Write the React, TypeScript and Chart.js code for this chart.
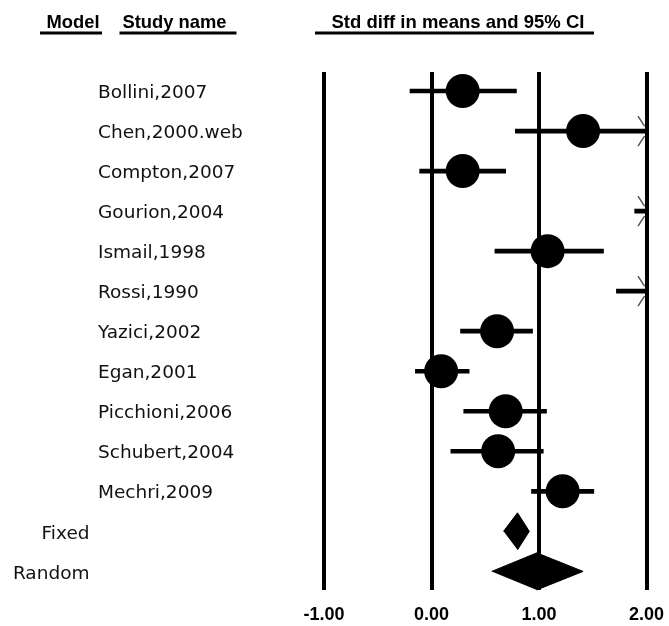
import React, { useEffect, useRef } from 'react';
import { Chart, registerables } from 'chart.js';

Chart.register(...registerables);

// ---- data ----
const studyNames = [
  'Bollini,2007',
  'Chen,2000.web',
  'Compton,2007',
  'Gourion,2004',
  'Ismail,1998',
  'Rossi,1990',
  'Yazici,2002',
  'Egan,2001',
  'Picchioni,2006',
  'Schubert,2004',
  'Mechri,2009',
];
const studyEst = [0.29, 1.41, 0.29, 2.4, 1.08, 2.3, 0.61, 0.09, 0.69, 0.62, 1.22];
const studyLo = [-0.2, 0.78, -0.11, 1.89, 0.59, 1.72, 0.27, -0.15, 0.3, 0.18, 0.93];
const studyHi = [0.79, 2.6, 0.69, 2.9, 1.6, 2.9, 0.94, 0.35, 1.07, 1.04, 1.51];

const modelNames = ['Fixed', 'Random'];
const modelEst = [0.8, 0.98];
const modelLo = [0.67, 0.56];
const modelHi = [0.91, 1.41];

const xTicks = [-1, 0, 1, 2];
const headerModel = 'Model';
const headerStudy = 'Study name';
const headerEffect = 'Std diff in means and 95% CI';

const X_MIN = -1;
const X_MAX = 2;
const DIAMOND_HALF = 0.4625; // in row units

export default function App() {
  const ref = useRef<HTMLCanvasElement | null>(null);

  useEffect(() => {
    const canvas = ref.current;
    if (!canvas) return;

    const nStudies = studyNames.length;

    const datasets: any[] = [];

    // points (boxes)
    datasets.push({
      type: 'scatter',
      data: studyEst.map((v, i) => ({ x: v, y: i })),
      pointRadius: 17,
      pointHoverRadius: 17,
      pointStyle: 'circle',
      backgroundColor: '#000',
      borderColor: '#000',
      borderWidth: 0,
      clip: 0,
    });

    // confidence intervals as floating horizontal bars
    datasets.push({
      type: 'bar',
      indexAxis: 'y',
      data: studyLo.map((lo, i) => ({ x: [lo, studyHi[i]], y: i })),
      backgroundColor: '#000',
      borderWidth: 0,
      barThickness: 4,
      grouped: false,
      clip: 0,
    });

    // summary diamonds
    modelNames.forEach((_, k) => {
      const row = nStudies + k;
      datasets.push({
        type: 'line',
        data: [
          { x: modelLo[k], y: row },
          { x: modelEst[k], y: row - DIAMOND_HALF },
          { x: modelHi[k], y: row },
          { x: modelEst[k], y: row + DIAMOND_HALF },
        ],
        borderColor: '#000',
        backgroundColor: '#000',
        borderWidth: 1,
        pointRadius: 0,
        tension: 0,
        fill: 'shape',
        clip: false,
      });
    });

    const textPlugin = {
      id: 'forestText',
      afterDatasetsDraw(chart: any) {
        const { ctx } = chart;
        const xs = chart.scales.x;
        const ys = chart.scales.y;
        ctx.save();

        // arrowheads for CIs running past the axis
        ctx.strokeStyle = '#555';
        ctx.lineWidth = 1.5;
        studyHi.forEach((hi, i) => {
          if (hi > X_MAX) {
            const px = xs.getPixelForValue(X_MAX);
            const py = ys.getPixelForValue(i);
            ctx.beginPath();
            ctx.moveTo(px - 8.5, py - 15);
            ctx.lineTo(px - 2, py - 5);
            ctx.moveTo(px - 8.5, py + 15);
            ctx.lineTo(px - 2, py + 5);
            ctx.stroke();
          }
        });

        // study names
        ctx.fillStyle = '#111';
        ctx.font = '18.5px "DejaVu Sans", sans-serif';
        ctx.textBaseline = 'alphabetic';
        ctx.textAlign = 'left';
        studyNames.forEach((name, i) => {
          const py = ys.getPixelForValue(i);
          ctx.fillText(name, 98, py + 7);
        });
        // model names
        ctx.textAlign = 'right';
        modelNames.forEach((name, k) => {
          const py = ys.getPixelForValue(nStudies + k);
          ctx.fillText(name, 89.5, py + 7.5);
        });

        // headers
        ctx.fillStyle = '#000';
        ctx.textAlign = 'left';
        ctx.font = 'bold 18.5px "Liberation Sans", Arial, sans-serif';
        ctx.fillText(headerModel, 46.5, 27.7, 53);
        ctx.fillText(headerStudy, 122.5, 27.7, 104);
        ctx.fillText(headerEffect, 331.5, 27.7, 253);
        ctx.fillRect(40, 31.5, 62, 3);
        ctx.fillRect(119.5, 31.5, 117, 3);
        ctx.fillRect(315, 31.5, 279, 3);

        ctx.restore();
      },
    };

    const chart = new Chart(canvas, {
      type: 'scatter',
      data: { datasets },
      options: {
        animation: false,
        responsive: false,
        devicePixelRatio: 1,
        layout: {
          padding: { left: 324, right: 22.5, top: 72, bottom: 0 },
        },
        plugins: {
          legend: { display: false },
          tooltip: { enabled: false },
        },
        events: [],
        scales: {
          x: {
            type: 'linear',
            min: X_MIN,
            max: X_MAX,
            offset: false,
            afterBuildTicks: (scale: any) => {
              scale.ticks = xTicks.map((v) => ({ value: v }));
            },
            grid: {
              color: '#000',
              lineWidth: 4,
              drawTicks: true,
              tickLength: 14,
              tickColor: 'rgba(0,0,0,0)',
              offset: false,
            },
            border: { display: false },
            ticks: {
              color: '#000',
              padding: 0,
              maxRotation: 0,
              autoSkip: false,
              font: { family: '"Liberation Sans", Arial, sans-serif', size: 18, weight: 'bold' },
              callback: (v: any) => Number(v).toFixed(2),
            },
          },
          y: {
            type: 'linear',
            min: -0.475,
            max: studyNames.length + modelNames.length - 1 + 0.475,
            reverse: true,
            offset: false,
            grid: { offset: false },
            display: false,
          },
        },
      },
      plugins: [textPlugin],
    });

    return () => chart.destroy();
  }, []);

  return (
    <div style={{ position: 'absolute', left: 0, top: 0, width: 669, height: 626, background: '#fff' }}>
      <canvas ref={ref} width={669} height={626} />
    </div>
  );
}
